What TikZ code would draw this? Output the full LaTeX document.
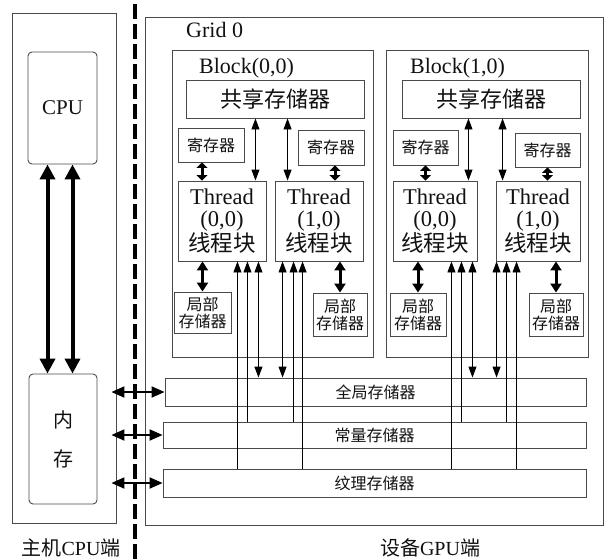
\documentclass[tikz,border=0pt]{standalone}
\usepackage{fontspec}
\setmainfont{Liberation Serif}
\newfontfamily\cjk{Noto Sans CJK SC}
\usetikzlibrary{positioning,arrows.meta}
\definecolor{ink}{HTML}{111111}
\definecolor{edge}{HTML}{4A4A4A}
\newcommand{\zh}[1]{{\cjk #1}}
\newcommand{\fsz}[2]{\fontsize{#1}{#2}\selectfont}

\begin{document}
\begin{tikzpicture}[x=1pt, y=-1pt,
  every node/.style={inner sep=0pt, text=ink, align=center},
  box/.style={draw=edge, line width=0.9pt},
  chip/.style={draw=edge, line width=0.9pt, rounded corners=4pt},
  bus/.style={line width=4pt, {Triangle[length=15pt,width=15pt]}-{Triangle[length=15pt,width=15pt]}},
  link/.style={line width=3pt, {Triangle[length=9pt,width=11pt]}-{Triangle[length=9pt,width=11pt]}},
  shortlink/.style={line width=3pt, {Triangle[length=5.5pt,width=11pt]}-{Triangle[length=5.5pt,width=11pt]}},
  wire/.style={line width=0.9pt, {Triangle[length=11pt,width=8pt]}-{Triangle[length=11pt,width=8pt]}},
  rd/.style={line width=0.9pt, {Triangle[length=11pt,width=8pt]}-},
  port/.style={line width=2pt, {Triangle[length=13pt,width=11pt]}-{Triangle[length=13pt,width=11pt]}},
  divider/.style={line width=4.5pt, dash pattern=on 15pt off 5pt}]
\useasboundingbox (0,0) rectangle (609,559);
% 1. host side: CPU and its memory
\node[box, minimum width=104pt, minimum height=510pt] (host) at (64,268) {};
\node[chip, minimum width=69pt, minimum height=112pt, font=\fsz{21}{21}] (cpu) at (62.5,108) {CPU};
\node[chip, minimum width=68pt, minimum height=130pt, font=\fsz{20}{39}] (mem) at (63,439) {\zh{内}\\\zh{存}};
\node[font=\fsz{20}{20}] (hostlab) at (71,548) {\zh{主机}CPU\zh{端}};
\draw[bus] ([xshift=-15pt]cpu.south) coordinate (a) -- (a |- mem.north);
\draw[bus] ([xshift=10pt]cpu.south) coordinate (a) -- (a |- mem.north);
% 2. device side: the grid and its two blocks
\node[box, minimum width=458pt, minimum height=508pt] (gpu) at (374,271) {};
\node[font=\fsz{22}{22}, anchor=base west] (gridlab) at (186,38) {Grid 0};
\node[font=\fsz{20}{20}] (gpulab) at (430,548) {\zh{设备}GPU\zh{端}};
\node[box, minimum width=201pt, minimum height=307pt] (blk0) at (272.5,203.5) {};
\node[box, minimum width=202pt, minimum height=307pt] (blk1) at (487,203.5) {};
\node[font=\fsz{22}{22}, anchor=base west] (blk0lab) at (199,74) {Block(0,0)};
\node[font=\fsz{22}{22}, anchor=base west] (blk1lab) at (410,74) {Block(1,0)};
\node[box, minimum width=178pt, minimum height=38pt, font=\fsz{22}{22}] (sh0) at (275,99) {\zh{共享存储器}};
\node[box, minimum width=178pt, minimum height=38pt, font=\fsz{22}{22}] (sh1) at (491,99) {\zh{共享存储器}};
% registers
\node[box, minimum width=66pt, minimum height=34pt, font=\fsz{16}{16}] (r00) at (211,145) {\zh{寄存器}};
\node[box, minimum width=66pt, minimum height=35pt, font=\fsz{16}{16}] (r01) at (331,147.5) {\zh{寄存器}};
\node[box, minimum width=65pt, minimum height=35pt, font=\fsz{16}{16}] (r10) at (425.5,147.5) {\zh{寄存器}};
\node[box, minimum width=65pt, minimum height=34pt, font=\fsz{16}{16}] (r11) at (547.5,150) {\zh{寄存器}};
% threads
\node[box, minimum width=88pt, minimum height=80pt, font=\fsz{22.5}{22}] (t00) at (222,221) {Thread\\(0,0)\\\zh{线程块}};
\node[box, minimum width=88pt, minimum height=80pt, font=\fsz{22.5}{22}] (t01) at (319,221) {Thread\\(1,0)\\\zh{线程块}};
\node[box, minimum width=84pt, minimum height=80pt, font=\fsz{22.5}{22}] (t10) at (435,221) {Thread\\(0,0)\\\zh{线程块}};
\node[box, minimum width=84pt, minimum height=80pt, font=\fsz{22.5}{22}] (t11) at (538,221) {Thread\\(1,0)\\\zh{线程块}};
% local memories
\node[box, minimum width=57pt, minimum height=41pt, font=\fsz{16}{17}] (l00) at (202.5,312.5) {\zh{局部}\\\zh{存储器}};
\node[box, minimum width=54pt, minimum height=43pt, font=\fsz{16}{17}] (l01) at (340,314.5) {\zh{局部}\\\zh{存储器}};
\node[box, minimum width=56pt, minimum height=43pt, font=\fsz{16}{17}] (l10) at (418,314.5) {\zh{局部}\\\zh{存储器}};
\node[box, minimum width=54pt, minimum height=43pt, font=\fsz{16}{17}] (l11) at (556,314.5) {\zh{局部}\\\zh{存储器}};
% 3. device-wide memories
\node[box, minimum width=421pt, minimum height=28pt, font=\fsz{16}{16}] (gm) at (375.5,392) {\zh{全局存储器}};
\node[box, minimum width=423pt, minimum height=26pt, font=\fsz{16}{16}] (cm) at (374.5,435) {\zh{常量存储器}};
\node[box, minimum width=423pt, minimum height=28pt, font=\fsz{16}{16}] (tm) at (374.5,483) {\zh{纹理存储器}};
% 4. links inside the blocks
\draw[wire] ([xshift=-11pt]t00.north east) coordinate (a) -- (a |- sh0.south);
\draw[wire] ([xshift=13pt]t01.north west) coordinate (a) -- (a |- sh0.south);
\draw[wire] ([xshift=-9pt]t10.north east) coordinate (a) -- (a |- sh1.south);
\draw[wire] ([xshift=7pt]t11.north west) coordinate (a) -- (a |- sh1.south);
\draw[shortlink] ([xshift=-9pt]r00.south) coordinate (a) -- (a |- t00.north);
\draw[shortlink] ([xshift=4pt]r01.south) coordinate (a) -- (a |- t01.north);
\draw[shortlink] (r10.south) -- (r10.south |- t10.north);
\draw[shortlink] (r11.south) -- (r11.south |- t11.north);
\draw[link] (t00.south -| l00.north) -- (l00.north);
\draw[link] (t01.south -| l01.north) -- (l01.north);
\draw[link] (t10.south -| l10.north) -- (l10.north);
\draw[link] (t11.south -| l11.north) -- (l11.north);
% threads down to texture, constant and global memory
\foreach \th/\cor/\dt/\dc/\dg in {t00/south east/-29/-19/-8, t01/south west/28/19/8,
                                  t10/south east/-26/-16/-5, t11/south west/21/11/1} {
  \draw[rd] ([xshift=\dt pt]\th.\cor) coordinate (a) -- (a |- tm.north);
  \draw[rd] ([xshift=\dc pt]\th.\cor) coordinate (a) -- (a |- cm.north);
  \draw[wire] ([xshift=\dg pt]\th.\cor) coordinate (a) -- (a |- gm.north);
}
% 5. host to device transfers, then the dividing line on top
\coordinate (hx) at ([xshift=-5pt]host.east);
\draw[port] (hx |- gm.west) -- (gm.west);
\draw[port] (hx |- cm.west) -- (cm.west);
\draw[port] (hx |- tm.west) -- (tm.west);
\coordinate (divtop) at (135,4);
\coordinate (divbot) at (135,560);
\draw[divider] (divtop) -- (divbot);
\end{tikzpicture}
\end{document}
